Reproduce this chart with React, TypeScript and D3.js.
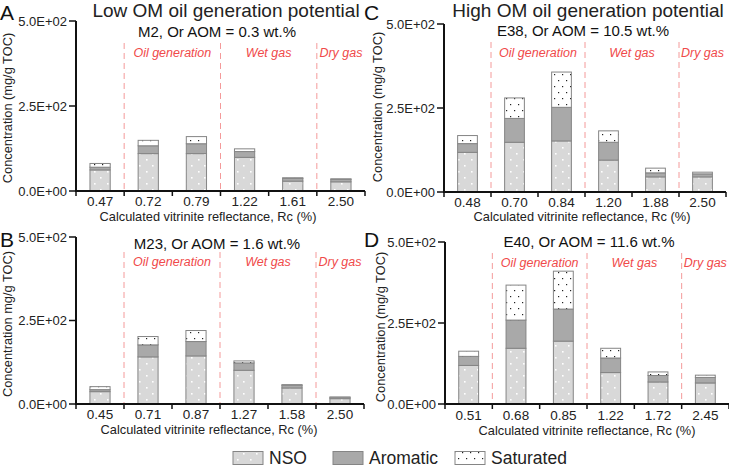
import React from "react";
import * as d3 from "d3";

// ---- data ----
const catsA = ["0.47", "0.72", "0.79", "1.22", "1.61", "2.50"];
const nsoA = [62, 110, 110, 99, 29, 27];
const aroA = [8, 23, 29, 17, 8, 7];
const satA = [11, 16, 21, 8, 2, 2];

const catsB = ["0.45", "0.71", "0.87", "1.27", "1.58", "2.50"];
const nsoB = [37, 141, 144, 101, 48, 16];
const aroB = [6, 36, 43, 22, 8, 4];
const satB = [9, 25, 33, 6, 2, 1];

const catsC = ["0.48", "0.70", "0.84", "1.20", "1.88", "2.50"];
const nsoC = [118, 148, 152, 95, 45, 45];
const aroC = [26, 71, 100, 53, 12, 9];
const satC = [24, 61, 105, 34, 14, 5];

const catsD = ["0.51", "0.68", "0.85", "1.22", "1.72", "2.45"];
const nsoD = [119, 172, 194, 97, 68, 65];
const aroD = [28, 87, 99, 45, 20, 17];
const satD = [16, 108, 117, 30, 11, 7];

const seriesNames = ["NSO", "Aromatic", "Saturated"];
const yTicks = [0, 250, 500];
const phaseNames = ["Oil generation", "Wet gas", "Dry gas"];
const groupTitles = ["Low OM oil generation potential", "High OM oil generation potential"];
const xTitle = "Calculated vitrinite reflectance, Rc (%)";

const FONT = "'Liberation Sans', Arial, Helvetica, sans-serif";
const fills = ["url(#patNSO)", "#a9a9a9", "url(#patSat)"];

function fmtE(v: number): string {
  if (v === 0) return "0.0E+00";
  const [m, e] = v.toExponential(1).split("e");
  const n = +e;
  return m + "E" + (n < 0 ? "-" : "+") + String(Math.abs(n)).padStart(2, "0");
}

type PanelCfg = {
  letter: string;
  subtitle: string;
  yLabel: string;
  cats: string[];
  nso: number[];
  aro: number[];
  sat: number[];
  x0: number;
  x1: number;
  yZero: number;
  yTop: number;
  dashTop: number;
  phaseY: number;
  subtitleX: number;
  subtitleY: number;
  letterX: number;
  letterY: number;
  yLabX: number;
  yLabY: number;
  tickLabY: number;
  xTitleY: number;
  xTitleX: number;
};

const panels: PanelCfg[] = [
  {
    letter: "A", subtitle: "M2, Or AOM = 0.3 wt.%", yLabel: "Concentration (mg/g TOC)",
    cats: catsA, nso: nsoA, aro: aroA, sat: satA,
    x0: 76, x1: 365, yZero: 191, yTop: 21, dashTop: 43, phaseY: 57,
    subtitleX: 217, subtitleY: 37, letterX: 0, letterY: 20, yLabX: 11.5, yLabY: 108,
    tickLabY: 206, xTitleY: 221, xTitleX: 208,
  },
  {
    letter: "B", subtitle: "M23, Or AOM = 1.6 wt.%", yLabel: "Concentration mg/g TOC)",
    cats: catsB, nso: nsoB, aro: aroB, sat: satB,
    x0: 76, x1: 364, yZero: 404, yTop: 237, dashTop: 252, phaseY: 266,
    subtitleX: 217, subtitleY: 249, letterX: 0, letterY: 247, yLabX: 12, yLabY: 324,
    tickLabY: 419, xTitleY: 434, xTitleX: 209,
  },
  {
    letter: "C", subtitle: "E38, Or AOM = 10.5 wt.%", yLabel: "Concentration (mg/g TOC)",
    cats: catsC, nso: nsoC, aro: aroC, sat: satC,
    x0: 444, x1: 726, yZero: 192, yTop: 24, dashTop: 42, phaseY: 57,
    subtitleX: 583, subtitleY: 36, letterX: 364, letterY: 20, yLabX: 382, yLabY: 107,
    tickLabY: 207, xTitleY: 221, xTitleX: 582,
  },
  {
    letter: "D", subtitle: "E40, Or AOM = 11.6 wt.%", yLabel: "Concentration (mg/g TOC)",
    cats: catsD, nso: nsoD, aro: aroD, sat: satD,
    x0: 445, x1: 729, yZero: 404, yTop: 242, dashTop: 253, phaseY: 267,
    subtitleX: 589, subtitleY: 247, letterX: 364, letterY: 247, yLabX: 385, yLabY: 327,
    tickLabY: 420, xTitleY: 435, xTitleX: 587,
  },
];

function Panel({ p }: { p: PanelCfg }) {
  const x = d3.scaleBand<string>().domain(p.cats).range([p.x0, p.x1]).paddingInner(0.58).paddingOuter(0.29);
  const y = d3.scaleLinear().domain([0, 500]).range([p.yZero, p.yTop]);
  const step = x.step();
  const rows = p.cats.map((c, i) => ({ cat: c, s0: p.nso[i], s1: p.aro[i], s2: p.sat[i] }));
  const stack = d3.stack<any>().keys(["s0", "s1", "s2"])(rows);
  const bounds = d3.range(p.cats.length + 1).map((i) => p.x0 + i * step);
  const dashIdx = [1, 3, 5];
  const phaseCenters = [(bounds[1] + bounds[3]) / 2, (bounds[3] + bounds[5]) / 2, (bounds[5] + bounds[6]) / 2];

  return (
    <g>
      {dashIdx.map((i) => (
        <line key={"d" + i} x1={bounds[i]} x2={bounds[i]} y1={p.dashTop} y2={p.yZero}
          stroke="#f49a9a" strokeWidth={1} strokeDasharray="6,4" />
      ))}
      {phaseNames.map((n, i) => (
        <text key={"ph" + i} x={phaseCenters[i]} y={p.phaseY} textAnchor="middle" fontStyle="italic"
          fontSize={12.5} fill="#f04a4a" fontFamily={FONT}>{n}</text>
      ))}
      {stack.map((layer, li) => (
        <g key={"l" + li}>
          {layer.map((d, j) => (
            <rect key={j} x={x(p.cats[j])} width={x.bandwidth()} y={y(d[1])}
              height={Math.max(0, y(d[0]) - y(d[1]))} fill={fills[li]} stroke="#858585" strokeWidth={1} />
          ))}
        </g>
      ))}
      <line x1={p.x0} x2={p.x0} y1={p.yTop} y2={p.yZero} stroke="#111" strokeWidth={2} />
      <line x1={p.x0 - 1} x2={p.x1} y1={p.yZero} y2={p.yZero} stroke="#111" strokeWidth={2} />
      {yTicks.map((t) => (
        <g key={"yt" + t}>
          <line x1={p.x0 - 7} x2={p.x0} y1={y(t)} y2={y(t)} stroke="#111" strokeWidth={1.5} />
          <text x={p.x0 - 9} y={y(t) + 4.5} textAnchor="end" fontSize={13} fill="#222" fontFamily={FONT}>{fmtE(t)}</text>
        </g>
      ))}
      {bounds.map((b, i) => (
        <line key={"xt" + i} x1={b} x2={b} y1={p.yZero} y2={p.yZero + 5} stroke="#111" strokeWidth={1.5} />
      ))}
      {p.cats.map((c) => (
        <text key={"xl" + c} x={(x(c) as number) + x.bandwidth() / 2} y={p.tickLabY} textAnchor="middle"
          fontSize={13.5} fill="#222" fontFamily={FONT}>{c}</text>
      ))}
      <text x={p.xTitleX} y={p.xTitleY} textAnchor="middle" fontSize={12.8} fill="#222" fontFamily={FONT}>{xTitle}</text>
      <text transform={`translate(${p.yLabX},${p.yLabY}) rotate(-90)`} textAnchor="middle" fontSize={12.8}
        fill="#222" fontFamily={FONT}>{p.yLabel}</text>
      <text x={p.subtitleX} y={p.subtitleY} textAnchor="middle" fontSize={15} fill="#111" fontFamily={FONT}>{p.subtitle}</text>
      <text x={p.letterX} y={p.letterY} fontSize={21} fill="#111" fontFamily={FONT}>{p.letter}</text>
    </g>
  );
}

export default function App() {
  const legendX = [233, 333, 455];
  return (
    <svg width={729} height={467} style={{ position: "absolute", left: 0, top: 0, background: "#fff" }}>
      <defs>
        <pattern id="patNSO" patternUnits="userSpaceOnUse" width={13} height={12}>
          <rect width={13} height={12} fill="#d8d8d8" />
          <rect x={3} y={3} width={1.6} height={1.6} fill="#fff" />
          <rect x={9} y={9} width={1.6} height={1.6} fill="#fff" />
        </pattern>
        <pattern id="patSat" patternUnits="userSpaceOnUse" width={8} height={12}>
          <rect width={8} height={12} fill="#fff" />
          <rect x={2} y={2} width={1.2} height={1.2} fill="#222" />
          <rect x={6} y={8} width={1.2} height={1.2} fill="#222" />
        </pattern>
      </defs>
      <rect width={729} height={467} fill="#fff" />
      <text x={226} y={17} textAnchor="middle" fontSize={19} fill="#222" fontFamily={FONT}>{groupTitles[0]}</text>
      <text x={588} y={17} textAnchor="middle" fontSize={19} fill="#222" fontFamily={FONT}>{groupTitles[1]}</text>
      {panels.map((p) => <Panel key={p.letter} p={p} />)}
      {seriesNames.map((n, i) => (
        <g key={n}>
          <rect x={legendX[i]} y={451.5} width={30} height={13} fill={fills[i]} stroke="#858585" strokeWidth={1} />
          <text x={legendX[i] + 36} y={463.5} fontSize={17.5} fill="#222" fontFamily={FONT}>{n}</text>
        </g>
      ))}
    </svg>
  );
}
